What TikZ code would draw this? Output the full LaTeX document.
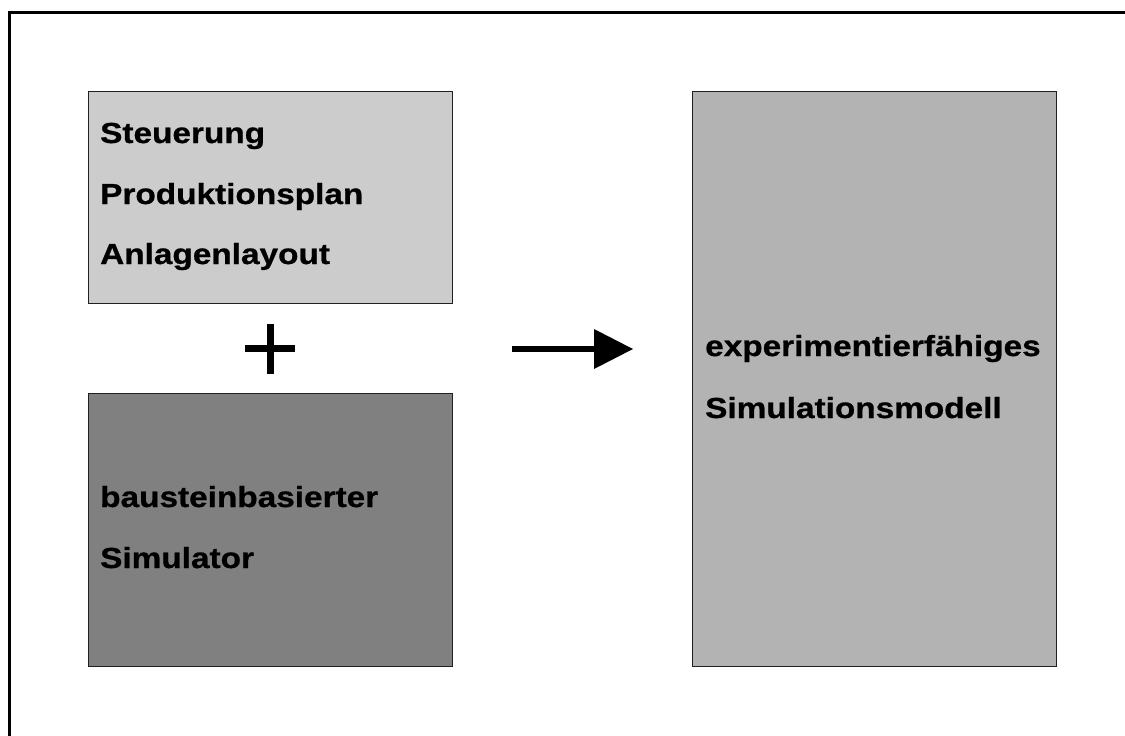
\documentclass[tikz,border=0pt]{standalone}
\usepackage{fontspec}
\setmainfont{Liberation Sans}[FakeStretch=1.15,BoldFeatures={FakeBold=0.8}]
\definecolor{lightbox}{HTML}{CCCCCC}
\definecolor{darkbox}{HTML}{808080}
\definecolor{midbox}{HTML}{B3B3B3}
\definecolor{edge}{HTML}{202020}
\tikzset{
  panel/.style={draw=edge, line width=1.4pt, anchor=north west, minimum width=364pt},
  label/.style={anchor=base west, inner sep=0pt, font=\fontsize{29}{31}\selectfont\bfseries},
  bar/.style={line width=7pt},
}
\begin{document}
\begin{tikzpicture}[x=1pt,y=-1pt]
  \useasboundingbox (0,0) rectangle (1125,736);
  % outer frame (only its top and left sides fall inside the page)
  \draw[line width=3pt] (9,760) -- (9,12) -- (1140,12);

  % input panels
  \node[panel, fill=lightbox, minimum height=212pt] (plan) at (88,91) {};
  \node[panel, fill=darkbox, minimum height=273pt] (sim) at (88,393) {};
  % result panel
  \node[panel, fill=midbox, minimum height=575pt] (model) at (692,91) {};

  % texts
  \node[label] (t1) at (100,143) {Steuerung};
  \node[label] (t2) at (100,204) {Produktionsplan};
  \node[label] (t3) at (100,264) {Anlagenlayout};
  \node[label] (t4) at (100,507) {bausteinbasierter};
  \node[label] (t5) at (100,568) {Simulator};
  \node[label] (t6) at (705,356) {experimentierfähiges};
  \node[label] (t7) at (705,418) {Simulationsmodell};

  % plus sign
  \coordinate (pc) at (270,348.5);
  \draw[bar] ([xshift=-25pt]pc) -- ([xshift=25pt]pc);
  \draw[bar] ([yshift=-25pt]pc) -- ([yshift=25pt]pc);

  % arrow
  \coordinate (as) at (512,349);
  \coordinate (ab) at (594,349);
  \coordinate (at) at (633,349);
  \draw[line width=6pt] (as) -- ([xshift=1pt]ab);
  \fill ([yshift=-20pt]ab) -- (at) -- ([yshift=20pt]ab) -- cycle;
\end{tikzpicture}
\end{document}
